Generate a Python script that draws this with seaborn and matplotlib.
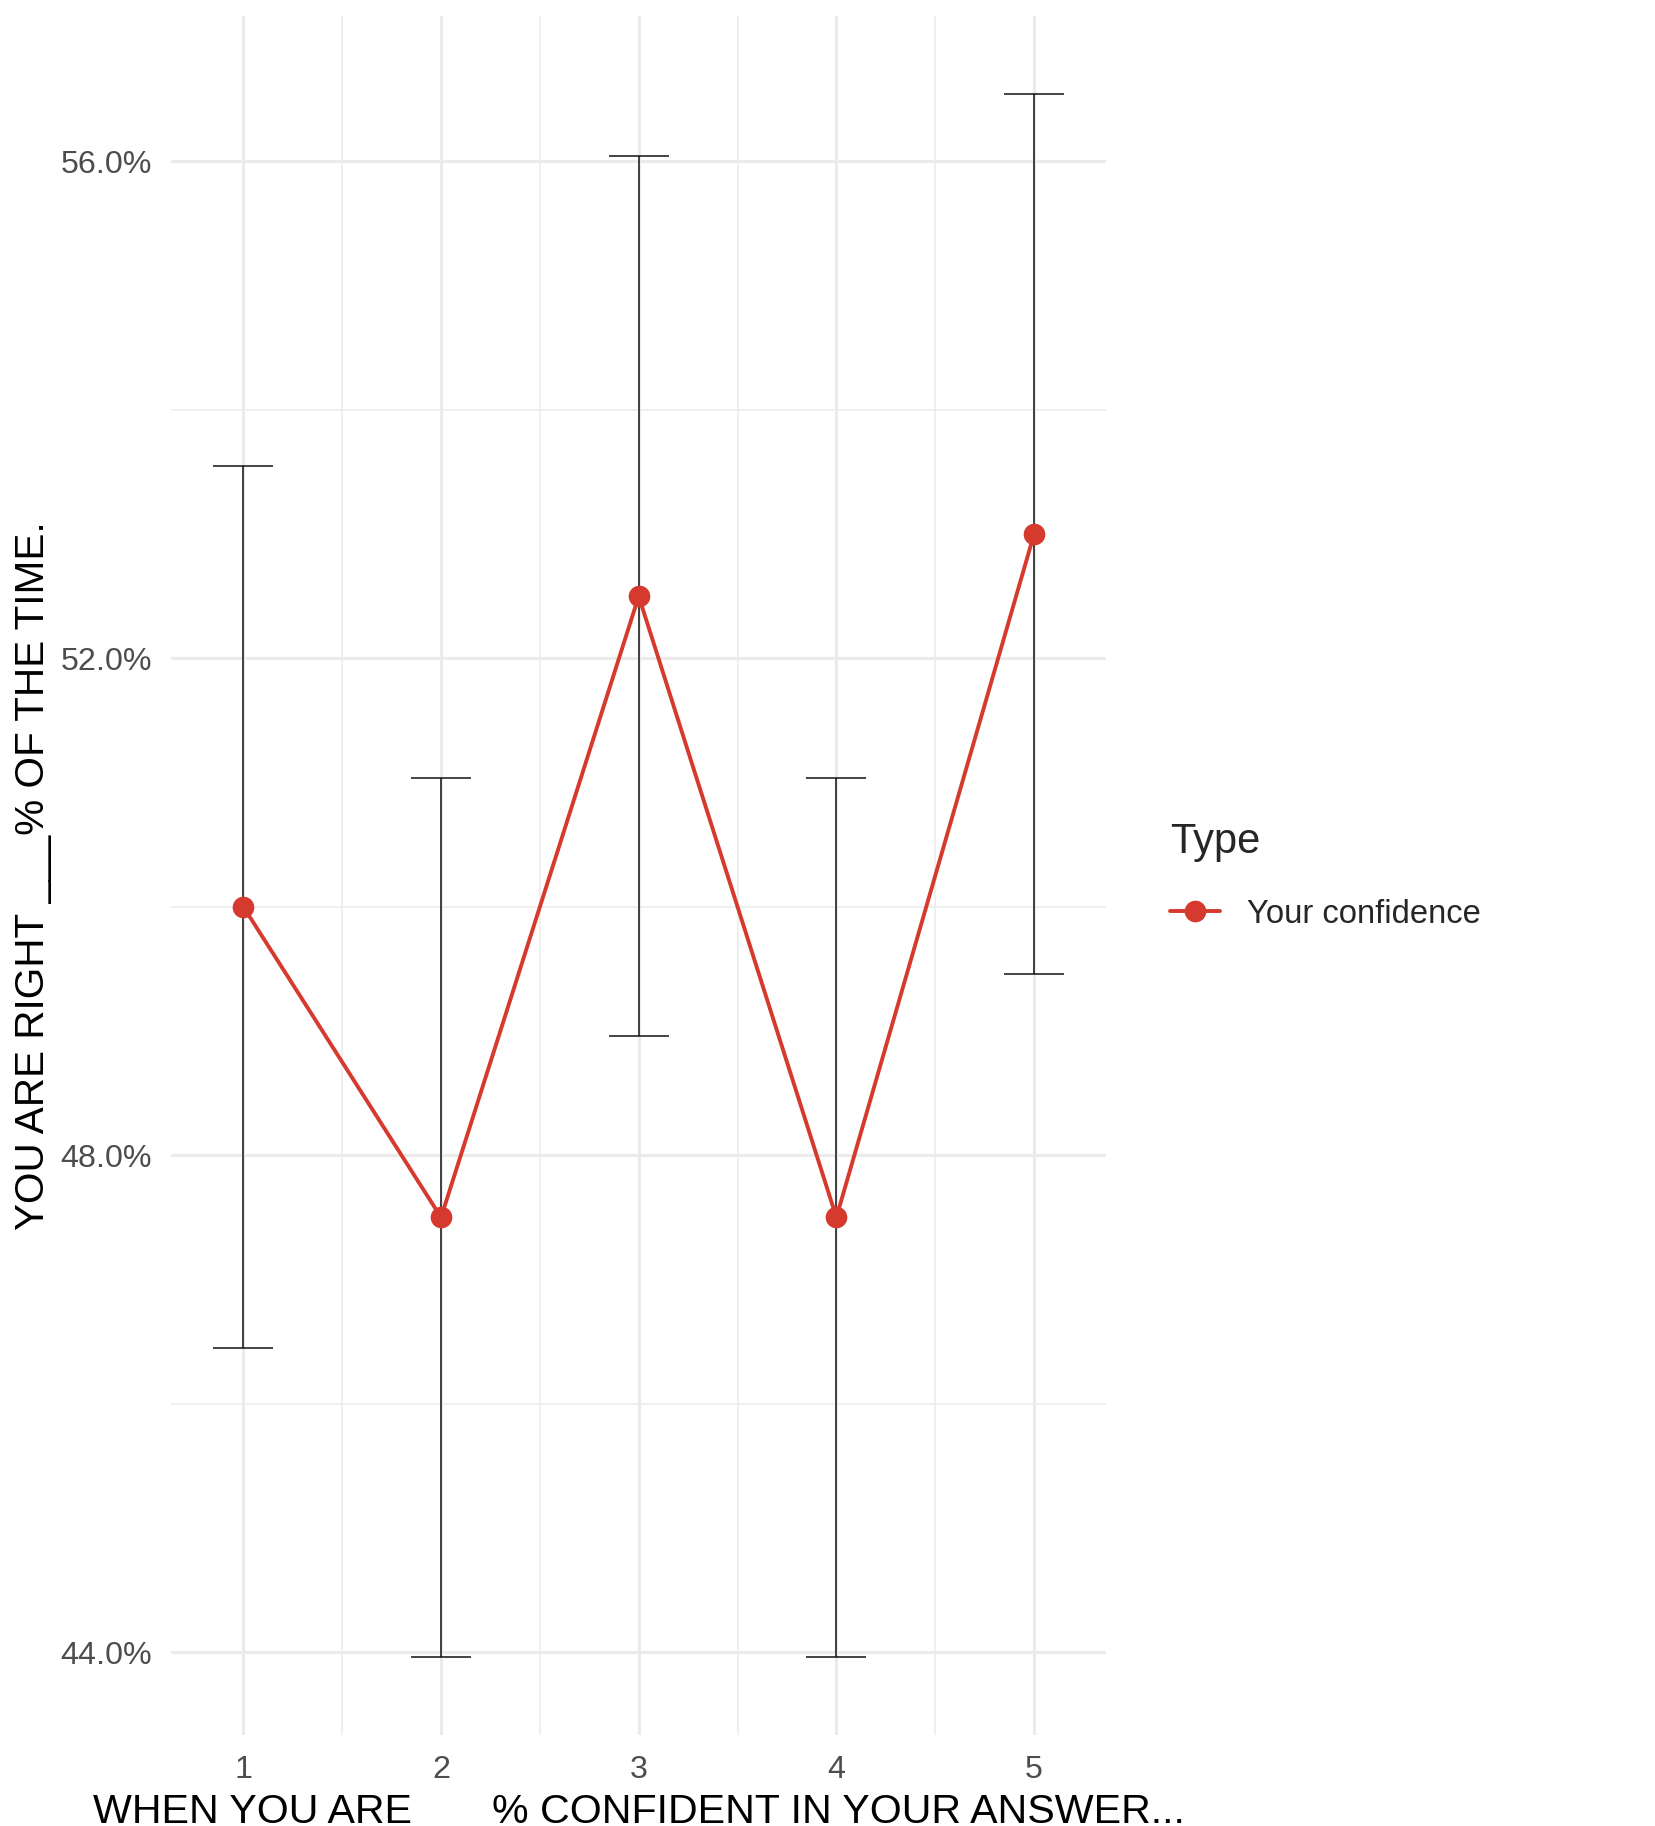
import numpy as np
import pandas as pd
import seaborn as sns
import matplotlib.pyplot as plt
from matplotlib.ticker import FuncFormatter, MultipleLocator

## Data
confidence = [1, 2, 3, 4, 5]
accuracy = [50.0, 47.5, 52.5, 47.5, 53.0]   # % right
ci = [3.55, 3.54, 3.54, 3.54, 3.54]          # half width of error bars
series = ["Your confidence"] * 5

df = pd.DataFrame({"confidence": confidence, "accuracy": accuracy,
                   "ci": ci, "Type": series})

sns.set_theme(style="white")
plt.rcParams["font.family"] = ["Liberation Sans", "DejaVu Sans"]

red = "#D63A2E"
grid = "#EBEBEB"

fig = plt.figure(figsize=(8.28, 9.13), dpi=200)
ax = fig.add_axes([0.1034, 0.0497, 0.5646, 0.9414])

## Error bars
ax.errorbar(df["confidence"], df["accuracy"], yerr=df["ci"], fmt="none",
            ecolor="#111111", elinewidth=0.55, capsize=10.7, capthick=0.55, zorder=2)

## Line + points
sns.lineplot(data=df, x="confidence", y="accuracy", hue="Type", style="Type",
             palette=[red], markers=["o"], dashes=False, markersize=7.8,
             markeredgewidth=0, linewidth=1.4, ax=ax, zorder=3)

## Limits like ggplot (5% expansion, cap width 0.3)
lo = min(a - c for a, c in zip(accuracy, ci))
hi = max(a + c for a, c in zip(accuracy, ci))
pad = (hi - lo) * 0.05
ax.set_ylim(lo - pad, hi + pad)
xlo, xhi = min(confidence) - 0.15, max(confidence) + 0.15
xpad = (xhi - xlo) * 0.05
ax.set_xlim(xlo - xpad, xhi + xpad)

ax.yaxis.set_major_locator(MultipleLocator(4))
ax.yaxis.set_minor_locator(MultipleLocator(2))
ax.xaxis.set_major_locator(MultipleLocator(1))
ax.xaxis.set_minor_locator(MultipleLocator(0.5))
ax.yaxis.set_major_formatter(FuncFormatter(lambda v, p: f"{v:.1f}%"))

ax.grid(which="major", color=grid, linewidth=1.1, zorder=0)
ax.grid(which="minor", color=grid, linewidth=0.55, zorder=0)
ax.set_axisbelow(True)
for s in ax.spines.values():
    s.set_visible(False)
ax.tick_params(which="both", length=0, pad=7, labelsize=11.6, labelcolor="#4D4D4D")

ax.set_xlabel("WHEN YOU ARE ___% CONFIDENT IN YOUR ANSWER...", fontsize=14.8,
              color="black")
ax.set_ylabel("YOU ARE RIGHT ___% OF THE TIME.", fontsize=14.6, color="black")
ax.xaxis.set_label_coords(0.5, -0.0335)
ax.yaxis.set_label_coords(-0.1275, 0.5)

sns.move_legend(ax, "center left", bbox_to_anchor=(1.068, 0.5), frameon=False,
                title="Type", fontsize=11.8, title_fontsize=15,
                handlelength=1.53, handletextpad=0.84, borderpad=0,
                borderaxespad=0, labelspacing=1.12, alignment="left")
for h in ax.get_legend().legend_handles:
    h.set_markersize(7.8)
    h.set_linewidth(1.4)

fig.savefig("out.png", dpi=200)
